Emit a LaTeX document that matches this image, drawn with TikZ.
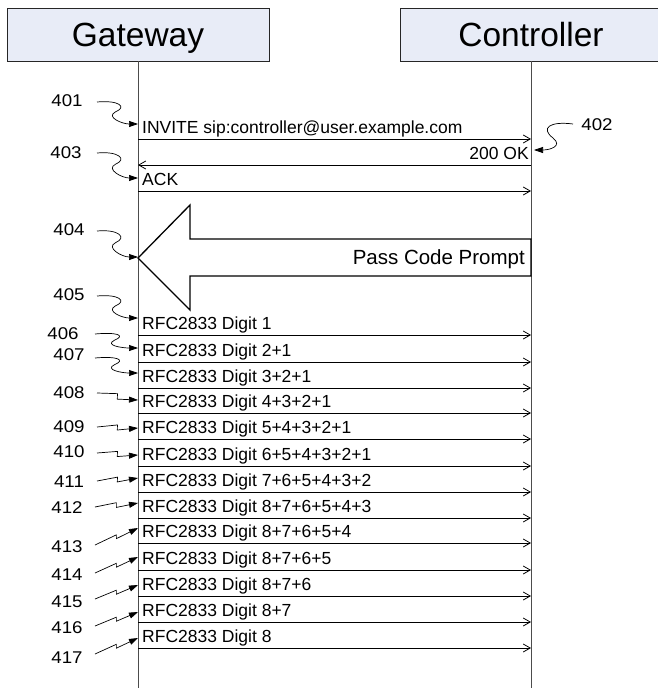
\documentclass[tikz,border=0pt]{standalone}
\usepackage{fontspec}
\setmainfont{Liberation Sans}
\newfontfamily\widefont[FakeStretch=1.1]{Liberation Sans}
\usetikzlibrary{arrows.meta,calc}
\definecolor{hdrblue}{RGB}{232,236,247}
\begin{document}
\begin{tikzpicture}[x=1pt,y=-1pt,
  hdr/.style={draw=black!85, fill=hdrblue, line width=0.9pt, minimum width=262pt, minimum height=53pt, inner sep=0pt, text height=24pt, text depth=0pt, font=\fontsize{33.5}{36}\selectfont},
  life/.style={draw=black!70, line width=1pt},
  msg/.style={draw=black, line width=0.8pt, -{Straight Barb[length=7pt,width=8pt,line width=0.8pt]}},
  msgtxt/.style={inner sep=0pt, font=\fontsize{17.5}{20}\selectfont},
  lbl/.style={inner sep=0pt, font=\widefont\fontsize{17}{19}\selectfont},
  ref/.style={draw=black, line width=0.7pt, -{Triangle[length=9pt,width=6pt]}},
  sq/.style={ref, to path={.. controls ($(\tikztostart)+(22,-2)$) and ($(\tikztostart)!.45!(\tikztotarget)+(12,-5)$) .. ($(\tikztostart)!.45!(\tikztotarget)$) .. controls ($(\tikztostart)!.45!(\tikztotarget)+(-10,5)$) and ($(\tikztotarget)+(-16,0)$) .. (\tikztotarget)}},
  zg/.style={ref, to path={-- ($(\tikztostart)!.45!(\tikztotarget)+(2,-2.5)$) -- ($(\tikztostart)!.52!(\tikztotarget)+(-1,2.5)$) -- (\tikztotarget)}}
]
\useasboundingbox[fill=white] (0,0) rectangle (657,688);

% headers and lifelines
\node[hdr] (gw) at (138,34.5) {Gateway};
\node[hdr] (ct) at (531,34.5) {Controller};
\coordinate (gwbot) at (138,690);
\coordinate (ctbot) at (531,690);
\draw[life] (gw.south) -- (gwbot);
\draw[life] (ct.south) -- (ctbot);

% SIP messages
\coordinate (ga0) at (138,139); \coordinate (cb0) at (531,139);
\draw[msg] (ga0) -- (cb0);
\node[msgtxt, anchor=base west] (inv) at (142,133) {INVITE sip:controller@user.example.com};
\coordinate (ga00) at (138,165); \coordinate (cb00) at (531,165);
\draw[msg] (cb00) -- (ga00);
\node[msgtxt, anchor=base east] (ok) at (529,159) {200 OK};
\coordinate (ga000) at (138,191); \coordinate (cb000) at (531,191);
\draw[msg] (ga000) -- (cb000);
\node[msgtxt, anchor=base west] (ack) at (142,185) {ACK};

% block arrow
\draw[line width=1.3pt, fill=white] (138,258) -- (190,205) -- (190,239) -- (531,239) -- (531,276) -- (190,276) -- (190,310) -- cycle;
\node[inner sep=0pt, anchor=base east, font=\fontsize{20.5}{23}\selectfont] (pcp) at (525,264.5) {Pass Code Prompt};

% RFC2833 digits
\foreach \y/\t [count=\i] in {335/1, 362/2+1, 388/3+2+1, 413/4+3+2+1, 439/5+4+3+2+1, 466/6+5+4+3+2+1, 492/7+6+5+4+3+2, 518/8+7+6+5+4+3, 543/8+7+6+5+4, 570/8+7+6+5, 596/8+7+6, 622/8+7, 648/8}{
  \coordinate (ga\i) at (138,\y);
  \coordinate (cb\i) at (531,\y);
  \draw[msg] (ga\i) -- (cb\i);
  \node[msgtxt, anchor=base west] (rt\i) at (142,\y-6) {RFC2833 Digit \t};
}

% reference labels with S-shaped leaders
\foreach \n/\lx/\ly/\sx/\sy/\ty in {401/67/101/97/102/124, 403/66/153/97/153/178, 404/69/230/97/231/257, 405/69/295/97/296/318, 406/63/334/95/334/348, 407/69/355/95/358/373}{
  \node[lbl] (l\n) at (\lx,\ly) {\n};
  \coordinate (s\n) at (\sx,\sy);
  \coordinate (t\n) at (138,\ty);
  \draw[sq] (s\n) to (t\n);
}
% reference labels with zigzag leaders
\foreach \n/\lx/\ly/\sx/\sy/\ty in {408/69/393/97/393/400, 409/69/427/97/427/428, 410/69/452/97/453/455, 411/69/482/97/481/478, 412/67/508/95/507/503, 413/67/547/95/545/528, 414/67/575/95/573/557, 415/67/602/95/599/585, 416/67/628/95/626/612, 417/67/658/95/654/638}{
  \node[lbl] (l\n) at (\lx,\ly) {\n};
  \coordinate (s\n) at (\sx,\sy);
  \coordinate (t\n) at (138,\ty);
  \draw[zg] (s\n) to (t\n);
}
% label 402
\node[lbl] (l402) at (597,125) {402};
\coordinate (s402) at (573,124);
\coordinate (t402) at (534,150);
\draw[ref] (s402) .. controls (550,121) and (540,128) .. (553,138) .. controls (563,146) and (550,150) .. (t402);
\end{tikzpicture}
\end{document}
